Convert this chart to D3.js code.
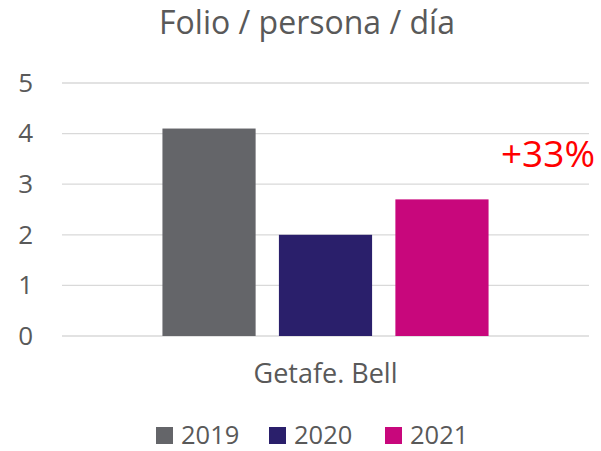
<!DOCTYPE html>
<html>
<head>
<meta charset="utf-8">
<script src="https://cdn.jsdelivr.net/npm/d3@7"></script>
<style>
  body { margin: 0; background: #fff; }
  text { font-family: "Open Sans", "Liberation Sans", sans-serif; }
</style>
</head>
<body>
<svg id="chart" width="601" height="451"></svg>
<script>
const categories = ["Getafe. Bell"];
const years = ["2019", "2020", "2021"];
const values = [4.1, 2.0, 2.7];
const yTicks = [0, 1, 2, 3, 4, 5];
const colors = ["#646569", "#2a1f6b", "#c8077c"];
const title = "Folio / persona / día";
const note = "+33%";

const width = 601, height = 451;
const margin = { top: 83, right: 12, bottom: 115, left: 62 };

const svg = d3.select("#chart");

const x0 = d3.scaleBand().domain(categories)
  .range([margin.left, width - margin.right]).paddingInner(0).paddingOuter(0.308);
const x1 = d3.scaleBand().domain(years)
  .range([0, x0.bandwidth()]).paddingInner(0.2);
const y = d3.scaleLinear().domain([0, 5]).range([height - margin.bottom, margin.top]);

// gridlines
svg.append("g")
  .selectAll("line")
  .data(yTicks)
  .join("line")
  .attr("x1", margin.left)
  .attr("x2", width - margin.right)
  .attr("y1", d => y(d))
  .attr("y2", d => y(d))
  .attr("stroke", "#d9d9d9")
  .attr("stroke-width", 1.3);

// y axis labels
const yAxis = d3.axisLeft(y).tickValues(yTicks).tickFormat(d3.format("d")).tickSize(0).tickPadding(0);
svg.append("g")
  .attr("transform", `translate(33,0)`)
  .call(yAxis)
  .call(g => g.select(".domain").remove())
  .selectAll("text")
  .attr("font-size", 26)
  .attr("fill", "#595959")
  .attr("font-family", "Open Sans, sans-serif");

// bars
const groups = svg.append("g")
  .selectAll("g")
  .data(categories)
  .join("g")
  .attr("transform", d => `translate(${x0(d)},0)`);

groups.selectAll("rect")
  .data(() => years.map((yr, i) => ({ yr, v: values[i], i })))
  .join("rect")
  .attr("x", d => x1(d.yr))
  .attr("width", x1.bandwidth())
  .attr("y", d => y(d.v))
  .attr("height", d => y(0) - y(d.v))
  .attr("fill", d => colors[d.i]);

// category axis label
const xAxis = d3.axisBottom(x0).tickSize(0).tickPadding(0);
svg.append("g")
  .attr("transform", `translate(0,${y(0) + 28})`)
  .call(xAxis)
  .call(g => g.select(".domain").remove())
  .selectAll("text")
  .attr("font-size", 27)
  .attr("fill", "#595959")
  .attr("font-family", "Open Sans, sans-serif");

// title
svg.append("text")
  .attr("x", 307)
  .attr("y", 34)
  .attr("text-anchor", "middle")
  .attr("font-size", 32)
  .attr("fill", "#595959")
  .text(title);

// annotation
svg.append("text")
  .attr("x", 548)
  .attr("y", 167)
  .attr("text-anchor", "middle")
  .attr("font-size", 37)
  .attr("fill", "#ff0000")
  .text(note);

// legend
const legendX = [156, 269, 385];
const legend = svg.append("g")
  .selectAll("g")
  .data(years)
  .join("g")
  .attr("transform", (d, i) => `translate(${legendX[i]},427)`);
legend.append("rect")
  .attr("width", 17).attr("height", 17)
  .attr("fill", (d, i) => colors[i]);
legend.append("text")
  .attr("x", 25).attr("y", 17)
  .attr("font-size", 25.5)
  .attr("fill", "#595959")
  .text(d => d);
</script>
</body>
</html>
